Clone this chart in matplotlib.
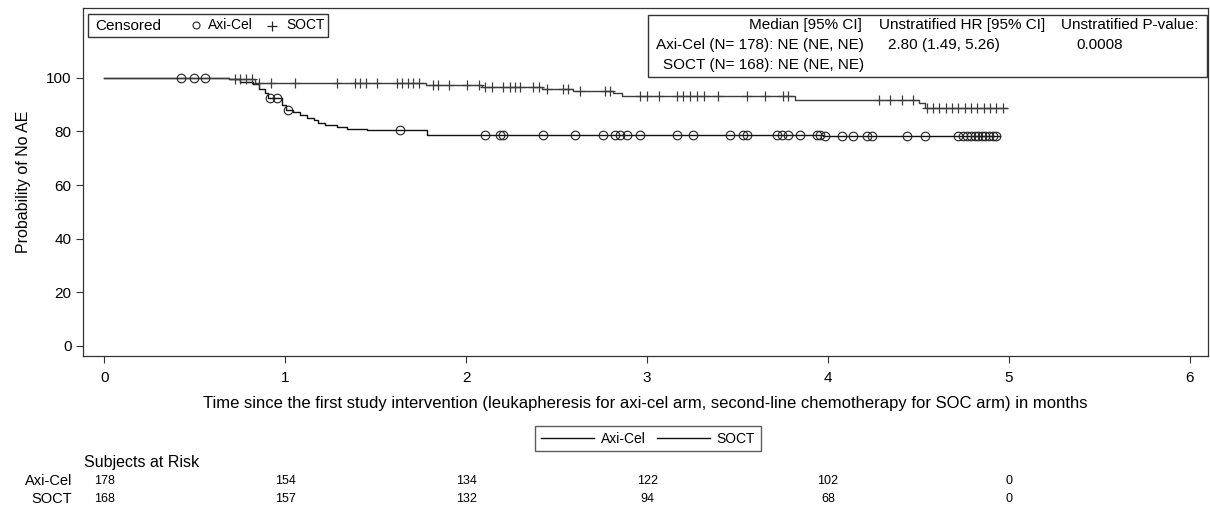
import numpy as np
import matplotlib
matplotlib.use("Agg")
import matplotlib.pyplot as plt
from matplotlib.lines import Line2D
from matplotlib.patches import Rectangle
from matplotlib.transforms import blended_transform_factory

plt.rcParams["font.family"] = ["Liberation Sans", "DejaVu Sans"]

W, H = 1210, 511

# Kaplan-Meier step curves (months, % without AE)
axi_t = [0, 0.69, 0.75, 0.824, 0.857, 0.888, 0.907, 0.981, 1.005, 1.045, 1.082,
         1.119, 1.156, 1.183, 1.22, 1.285, 1.34, 1.451, 1.783, 3.97, 4.95]
axi_s = [100, 99.4, 98.6, 97.8, 95.9, 94.3, 92.5, 90.0, 87.8, 87.2, 86.0,
         85.0, 84.1, 83.1, 82.2, 81.6, 81.0, 80.4, 78.7, 78.2, 78.2]
soc_t = [0, 0.69, 0.83, 1.78, 2.086, 2.418, 2.593, 2.814, 2.86, 3.818, 4.5, 4.537, 4.99]
soc_s = [100, 99.4, 97.9, 97.3, 96.5, 95.9, 95.0, 94.2, 93.2, 91.6, 90.6, 88.6, 88.6]

# censoring times
axi_cens = [0.425, 0.495, 0.557, 0.913, 0.953, 1.017, 1.635, 2.105, 2.186, 2.205,
            2.427, 2.602, 2.758, 2.823, 2.85, 2.888, 2.961, 3.164, 3.256, 3.459,
            3.532, 3.551, 3.717, 3.745, 3.781, 3.846, 3.941, 3.956, 3.984, 4.076,
            4.14, 4.214, 4.242, 4.436, 4.537, 4.72, 4.745, 4.77, 4.79, 4.81, 4.83,
            4.85, 4.87, 4.89, 4.91, 4.93]
soc_cens = [0.723, 0.75, 0.781, 0.815, 0.857, 0.92, 1.054, 1.285, 1.386, 1.413,
            1.445, 1.509, 1.616, 1.644, 1.681, 1.708, 1.74, 1.815, 1.846, 1.907,
            2.007, 2.073, 2.105, 2.141, 2.206, 2.243, 2.27, 2.298, 2.371, 2.4,
            2.445, 2.537, 2.565, 2.63, 2.768, 2.795, 2.961, 2.998, 3.063, 3.164,
            3.201, 3.238, 3.275, 3.315, 3.389, 3.551, 3.652, 3.753, 3.781, 4.279,
            4.343, 4.408, 4.472, 4.546, 4.58, 4.615, 4.65, 4.685, 4.72, 4.755,
            4.79, 4.825, 4.86, 4.895, 4.93, 4.965]

risk_months = [0, 1, 2, 3, 4, 5]
axi_risk = [178, 154, 134, 122, 102, 0]
soc_risk = [168, 157, 132, 94, 68, 0]

XLABEL = ("Time since the first study intervention (leukapheresis for axi-cel arm, "
          "second-line chemotherapy for SOC arm) in months")


def level_at(times, surv, t):
    idx = np.searchsorted(times, t, side="right") - 1
    return np.asarray(surv)[idx]


def fx(px):
    return px / W


def fy(py):
    return 1 - py / H


fig = plt.figure(figsize=(W / 100, H / 100), dpi=100)
ax = fig.add_axes([fx(83), fy(356), (1208 - 83) / W, (356 - 8) / H])

axi_color = "#111111"
soc_color = "#3c3c3c"
axi_line, = ax.step(axi_t, axi_s, where="post", color=axi_color, lw=1.0, label="Axi-Cel")
soc_line, = ax.step(soc_t, soc_s, where="post", color=soc_color, lw=1.0, label="SOCT")

ax.plot(axi_cens, level_at(axi_t, axi_s, axi_cens), "o", ms=6.2, mfc="none",
        mec="#222222", mew=0.8)
ax.plot(soc_cens, level_at(soc_t, soc_s, soc_cens), "+", ms=7, color=soc_color, mew=0.9)

ax.set_xlim(-0.118, 6.10)
ax.set_ylim(-3.73, 126.0)
ax.set_xticks(range(7))
ax.set_yticks(range(0, 101, 20))
ax.tick_params(axis="both", direction="out", length=4.8, width=0.8,
               color="#333333", labelsize=11)
ax.tick_params(axis="x", pad=6)
ax.tick_params(axis="y", pad=3.5)
for sp in ax.spines.values():
    sp.set_color("#333333")
    sp.set_linewidth(0.9)

ax.set_ylabel("Probability of No AE", fontsize=11.5)
ax.yaxis.set_label_coords((31 - 83) / 1125, 0.5)
ax.set_xlabel(XLABEL, fontsize=12)
ax.xaxis.set_label_coords(0.5, (356 - 396) / 348)

# censored legend box (top left)
fig.add_artist(Rectangle((fx(88), fy(37)), (328 - 88) / W, (37 - 14) / H,
                         transform=fig.transFigure, fill=False, ec="#333333", lw=1.0))
fig.text(fx(95), fy(26), "Censored", fontsize=11, va="center")
fig.add_artist(Line2D([fx(196)], [fy(25.5)], marker="o", ms=5, mfc="none",
                      mec="#222222", mew=0.8, transform=fig.transFigure))
fig.text(fx(208), fy(25), "Axi-Cel", fontsize=10, va="center")
fig.add_artist(Line2D([fx(272)], [fy(26)], marker="+", ms=7, color="#222222",
                      mew=0.9, transform=fig.transFigure))
fig.text(fx(286), fy(25), "SOCT", fontsize=10, va="center")

# statistics box (top right)
fig.add_artist(Rectangle((fx(648), fy(77)), (1207 - 648) / W, (77 - 15) / H,
                         transform=fig.transFigure, fill=False, ec="#333333", lw=1.0))
tfs = 11
fig.text(fx(862), fy(25), "Median [95% CI]", fontsize=tfs, ha="right", va="center")
fig.text(fx(879), fy(25), "Unstratified HR [95% CI]", fontsize=tfs, va="center")
fig.text(fx(1061), fy(25), "Unstratified P-value:", fontsize=tfs, va="center")
fig.text(fx(864), fy(45), "Axi-Cel (N= 178): NE (NE, NE)", fontsize=tfs, ha="right", va="center")
fig.text(fx(888), fy(45), "2.80 (1.49, 5.26)", fontsize=tfs, va="center")
fig.text(fx(1076), fy(45), "0.0008", fontsize=tfs, va="center")
fig.text(fx(864), fy(65), "SOCT (N= 168): NE (NE, NE)", fontsize=tfs, ha="right", va="center")

# line legend (below axis label)
h1 = Line2D([], [], color="#111111", lw=1.0)
h2 = Line2D([], [], color="#111111", lw=1.0)
leg = fig.legend([h1, h2], ["Axi-Cel", "SOCT"], loc="center",
                 bbox_to_anchor=(fx(648), fy(438.5)), ncol=2, fontsize=10,
                 frameon=True, fancybox=False, edgecolor="#333333",
                 handlelength=3.8, handletextpad=0.5, columnspacing=0.8,
                 borderpad=0.42, borderaxespad=0)
leg.get_frame().set_linewidth(1.0)

# subjects at risk table
trans = blended_transform_factory(ax.transData, fig.transFigure)
fig.text(fx(84), fy(462), "Subjects at Risk", fontsize=11.5, va="center")
fig.text(fx(72), fy(481), "Axi-Cel", fontsize=10.5, ha="right", va="center")
fig.text(fx(72), fy(499), "SOCT", fontsize=10.5, ha="right", va="center")
for m, a, s in zip(risk_months, axi_risk, soc_risk):
    ax.text(m, fy(481), str(a), transform=trans, fontsize=9, ha="center", va="center")
    ax.text(m, fy(499), str(s), transform=trans, fontsize=9, ha="center", va="center")

fig.savefig("out.png", dpi=100)
